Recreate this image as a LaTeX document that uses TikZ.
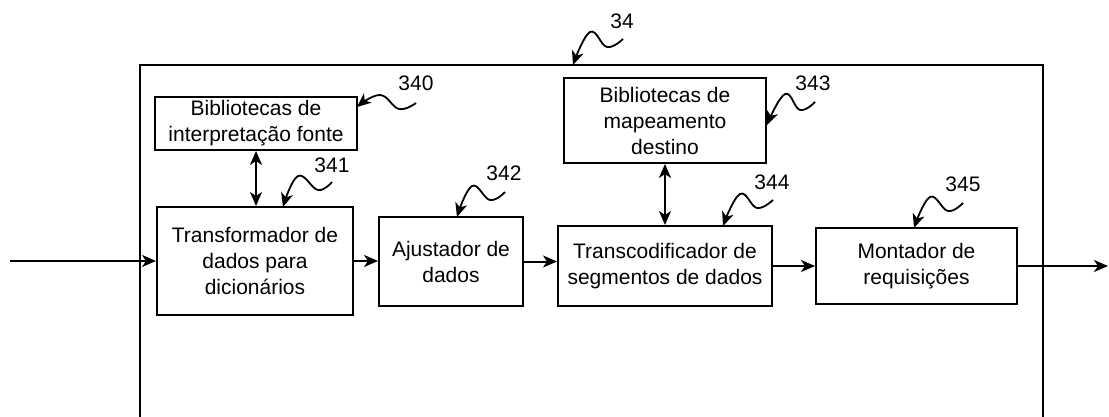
\documentclass[tikz,border=0pt]{standalone}
\usepackage{fontspec}
\setmainfont{Liberation Sans}
\usetikzlibrary{arrows.meta}

\tikzset{
  blockbox/.style={draw=black, line width=2pt, inner sep=2pt, align=center,
    font=\fontsize{21}{26}\selectfont},
  reflabel/.style={inner sep=0pt, font=\fontsize{21}{24}\selectfont},
  conn/.style={line width=2pt, -{Stealth[length=14pt,width=12pt,inset=4pt]}},
  dconn/.style={line width=2pt,
    {Stealth[length=14pt,width=12pt,inset=4pt]}-{Stealth[length=14pt,width=12pt,inset=4pt]}},
  leader/.style={line width=1.8pt, -{Stealth[length=14pt,width=12pt,inset=4pt]}},
  frameline/.style={line width=2pt}
}

\begin{document}
\begin{tikzpicture}[x=1pt,y=-1pt]
\useasboundingbox (0,0) rectangle (1109,417);

% enclosing module 34 (open at the bottom)
\draw[frameline] (140,417) -- (140,65) -- (1043,65) -- (1043,417);

% blocks
\node[blockbox, minimum width=202pt, minimum height=53pt] (b340) at (256,123.5)
  {Bibliotecas de\\interpretação fonte};
\node[blockbox, minimum width=196pt, minimum height=108pt] (b341) at (255,261)
  {Transformador de\\dados para\\dicionários};
\node[blockbox, minimum width=144pt, minimum height=89pt] (b342) at (451,261.5)
  {Ajustador de\\dados};
\node[blockbox, minimum width=202pt, minimum height=85pt] (b343) at (665,120.5)
  {Bibliotecas de\\mapeamento\\destino};
\node[blockbox, minimum width=214pt, minimum height=80pt] (b344) at (665,266)
  {Transcodificador de\\segmentos de dados};
\node[blockbox, minimum width=201pt, minimum height=76pt] (b345) at (916.5,266)
  {Montador de\\requisições};

% data flow
\coordinate (flowin) at (10,261);
\coordinate (flowout) at (1108,266);
\draw[conn] (flowin) -- (b341.west);
\draw[conn] (b341.east) -- (b341.east -| b342.west);
\draw[conn] (b342.east) -- (b342.east -| b344.west);
\draw[conn] (b344.east) -- (b345.west);
\draw[conn] (b345.east) -- (flowout);
\draw[dconn] (b340.south) -- (b340.south |- b341.north);
\draw[dconn] (b343.south) -- (b344.north);

% reference numerals
\node[reflabel] (n34)  at (622,21)  {34};
\node[reflabel] (n340) at (416,83)  {340};
\node[reflabel] (n341) at (332,165) {341};
\node[reflabel] (n342) at (504,173) {342};
\node[reflabel] (n343) at (813,83)  {343};
\node[reflabel] (n344) at (772,182) {344};
\node[reflabel] (n345) at (963,184) {345};

% leader tips
\coordinate (t34)  at (573,65);
\coordinate (t340) at (357,107);
\coordinate (t341) at (283,207);
\coordinate (t342) at (457,217);
\coordinate (t343) at (767,125);
\coordinate (t344) at (723,226);
\coordinate (t345) at (914,228);

% wavy leaders
\draw[leader] plot[smooth, tension=0.7] coordinates {(623,39) (607,47) (590,32) (t34)};
\draw[leader] plot[smooth, tension=0.7] coordinates {(416,103) (399,109) (380,95) (t340)};
\draw[leader] plot[smooth, tension=0.7] coordinates {(332,182) (318,190) (298,176) (t341)};
\draw[leader] plot[smooth, tension=0.7] coordinates {(505,192) (490,200) (472,186) (t342)};
\draw[leader] plot[smooth, tension=0.7] coordinates {(815,102) (800,110) (785,94) (t343)};
\draw[leader] plot[smooth, tension=0.7] coordinates {(773,200) (757,208) (740,194) (t344)};
\draw[leader] plot[smooth, tension=0.7] coordinates {(963,203) (948,211) (930,197) (t345)};
\end{tikzpicture}
\end{document}
